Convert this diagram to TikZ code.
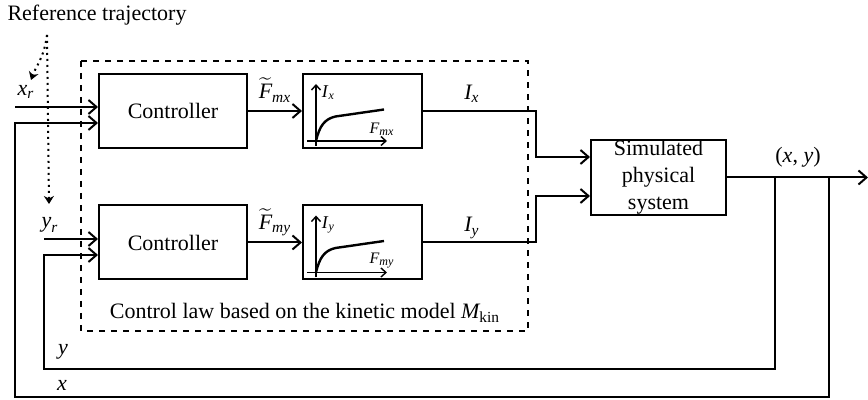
\documentclass[tikz,border=0pt]{standalone}
\usepackage{fontspec}
\setmainfont{Liberation Serif}
\usepackage{amsmath}
\usetikzlibrary{arrows.meta, positioning, calc}

\tikzset{
  blk/.style={draw, line width=1pt, minimum width=74pt, minimum height=37pt, inner sep=0pt},
  mapblk/.style={draw, line width=1pt, minimum width=59.5pt, minimum height=37pt, inner sep=0pt},
  simblk/.style={draw, line width=1pt, minimum width=67.5pt, minimum height=36.5pt, inner sep=0pt, align=center},
  sig/.style={line width=1pt, -{Straight Barb[length=4pt, width=7pt]}},
  wire/.style={line width=1pt},
  axis/.style={line width=0.7pt, -{Straight Barb[length=2.5pt, width=4.5pt]}},
  lbl/.style={inner sep=0pt},
  small/.style={inner sep=0pt, font=\fontsize{8}{8}\selectfont},
}

\begin{document}
\begin{tikzpicture}[x=0.5pt, y=-0.5pt, font=\fontsize{11}{13}\selectfont]
\useasboundingbox (0,0) rectangle (868,400);

% blocks
\node[blk] (ctrlx) at (173,111) {Controller};
\node[blk] (ctrly) at (173,242.5) {Controller};
\node[mapblk] (mapx) at (362.5,111) {};
\node[mapblk] (mapy) at (362.5,242.5) {};
\node[simblk, font=\fontsize{11}{13.5}\selectfont] (sim) at (658.5,177.5) {Simulated\\physical\\system};

% dashed frame of the control law
\draw[dashed, line width=0.7pt] (81,61) rectangle (528,331);
\node[lbl] (law) at (305,313) {Control law based on the kinetic model $\textit{M}_{\text{kin}}$};

% mini characteristic curves
\foreach \m/\s in {mapx/x, mapy/y} {
  \begin{scope}[shift={(\m)}]
    \draw[axis] (-46.5,35) -- (-46.5,-27);
    \draw[axis] (-55.5,30) -- (24.5,30);
    \draw[line width=1.2pt] (-46.5,30) .. controls (-43,15) and (-38,8) .. (-27,5.5) -- (21.5,-1.5);
    \node[small] at (-34,-18) {\fontsize{9}{9}\selectfont\textit{I}$_{\textit{\s}}$};
    \node[small] at (19.5,18) {\textit{F}$_{\textit{m\s}}$};
  \end{scope}
}

% coordinates of the wiring
\coordinate (xin) at (15,107);
\coordinate (yin) at (44,239);
\coordinate (bx) at (829,177.5);
\coordinate (by) at (775,177.5);
\coordinate (out) at (868,177.5);
\coordinate (jx) at (536,111);
\coordinate (jy) at (536,242.5);

% forward path
\draw[sig] (xin) -- (xin -| ctrlx.west);
\draw[sig] (yin) -- (yin -| ctrly.west);
\draw[sig] (ctrlx) -- (mapx);
\draw[sig] (ctrly) -- (mapy);
\draw[sig] (mapx.east) -- (jx) |- ($(sim.west)+(0,-20.5)$);
\draw[sig] (mapy.east) -- (jy) |- ($(sim.west)+(0,18.5)$);
\draw[sig] (sim.east) -- (out);

% feedback
\draw[sig] (by) -- (775,369) -- (44,369) -- (44,255) -- (ctrly.west |- 0,255);
\draw[sig] (bx) -- (829,397) -- (15,397) -- (15,123) -- (ctrlx.west |- 0,123);

% labels
\node[lbl] (xr) at (26,92) {$\textit{x}_{\textit{r}}$};
\node[lbl] (yr) at (50,225) {$\textit{y}_{\textit{r}}$};
\node[lbl] (fx) at (275,90) {$\widetilde{\textit{F}}_{\textit{mx}}$};
\node[lbl] (fy) at (275,222) {$\widetilde{\textit{F}}_{\textit{my}}$};
\node[lbl] (ix) at (472,94) {$\textit{I}_{\textit{x}}$};
\node[lbl] (iy) at (472,228) {$\textit{I}_{\textit{y}}$};
\node[lbl] (xy) at (798,157) {(\textit{x}, \textit{y})};
\node[lbl] (ly) at (63,352) {\textit{y}};
\node[lbl] (lx) at (62,385) {\textit{x}};

% reference trajectory pointers
\node[lbl] (ref) at (97,15) {Reference trajectory};
\coordinate (rp) at (47,35);
\draw[dotted, line width=1pt, -{Stealth[length=4pt, width=5pt]}] (rp) .. controls (44,58) and (36,66) .. (31,80);
\draw[dotted, line width=1pt, -{Stealth[length=4pt, width=5pt]}] (rp) -- (49,204);
\end{tikzpicture}
\end{document}
